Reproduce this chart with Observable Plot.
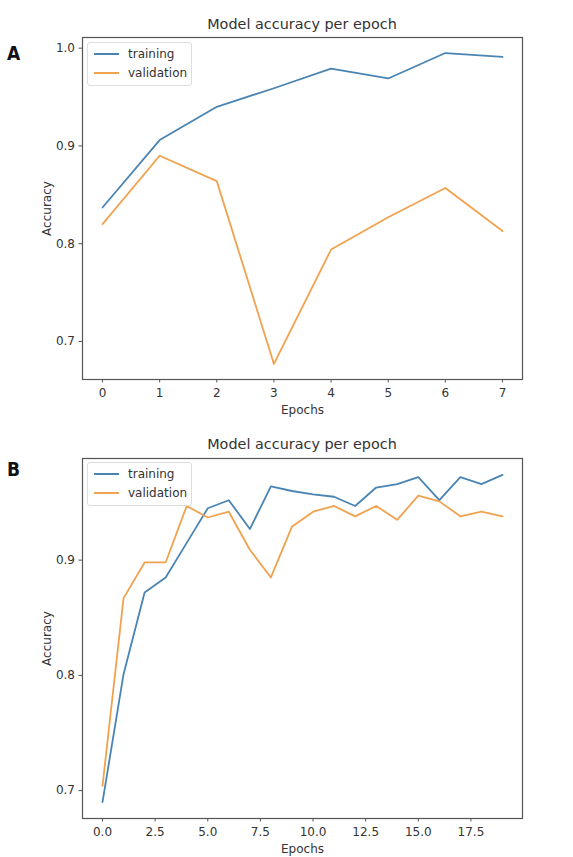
<!DOCTYPE html>
<html>
<head>
<meta charset="utf-8">
<script src="https://cdn.jsdelivr.net/npm/d3@7"></script>
<script src="https://cdn.jsdelivr.net/npm/@observablehq/plot@0.6"></script>
<style>
  html, body { margin: 0; padding: 0; background: #fff; }
  #wrap { position: relative; width: 573px; height: 857px; overflow: hidden; font-family: "DejaVu Sans", sans-serif; color: #333; }
  .panel { position: absolute; left: 0; width: 573px; }
  .title { position: absolute; left: 82px; width: 440px; text-align: center; font-size: 14.4px; color: #333; white-space: nowrap; }
  .letter { position: absolute; left: 7px; font-family: "Liberation Sans Narrow", "DejaVu Sans Condensed", sans-serif; font-weight: bold; font-size: 19px; color: #111; }
  .legend { position: absolute; left: 87px; width: 105px; height: 44px; box-sizing: border-box; border: 1px solid #ddd; border-radius: 3px; background: rgba(255,255,255,0.8); font-size: 12px; color: #333; }
  .legend .row { position: absolute; left: 6px; height: 14px; display: flex; align-items: center; }
  .legend .sw { width: 25px; height: 0; border-top: 2px solid; margin-right: 9px; }
</style>
</head>
<body>
<div id="wrap"></div>
<script>
// Panel A data
const epochsA = [0, 1, 2, 3, 4, 5, 6, 7];
const trainA = [0.837, 0.906, 0.940, 0.959, 0.979, 0.969, 0.995, 0.991];
const valA   = [0.820, 0.890, 0.864, 0.677, 0.794, 0.827, 0.857, 0.813];
const xTicksA = [0, 1, 2, 3, 4, 5, 6, 7];
const yTicksA = [0.7, 0.8, 0.9, 1.0];

// Panel B data
const epochsB = [0,1,2,3,4,5,6,7,8,9,10,11,12,13,14,15,16,17,18,19];
const trainB = [0.690, 0.801, 0.872, 0.885, 0.915, 0.945, 0.952, 0.927, 0.964, 0.960, 0.957, 0.955, 0.947, 0.963, 0.966, 0.972, 0.952, 0.972, 0.966, 0.974];
const valB   = [0.704, 0.867, 0.898, 0.898, 0.947, 0.937, 0.942, 0.909, 0.885, 0.929, 0.942, 0.947, 0.938, 0.947, 0.935, 0.956, 0.951, 0.938, 0.942, 0.938];
const xTicksB = [0, 2.5, 5, 7.5, 10, 12.5, 15, 17.5];
const yTicksB = [0.7, 0.8, 0.9];

const seriesNames = ["training", "validation"];
const colors = ["#4a84b3", "#f0a24e"];

function rows(epochs, tr, va) {
  const out = [];
  epochs.forEach((e, i) => out.push({epoch: e, acc: tr[i], series: seriesNames[0]}));
  epochs.forEach((e, i) => out.push({epoch: e, acc: va[i], series: seriesNames[1]}));
  return out;
}

function pad(vals, f) {
  const lo = d3.min(vals), hi = d3.max(vals), r = hi - lo;
  return [lo - r * f, hi + r * f];
}

function makePlot(cfg) {
  const data = rows(cfg.epochs, cfg.tr, cfg.va);
  return Plot.plot({
    width: 573,
    height: cfg.height,
    marginLeft: 82,
    marginRight: 51,
    marginTop: cfg.marginTop,
    marginBottom: cfg.marginBottom,
    style: { fontFamily: "DejaVu Sans, sans-serif", fontSize: "12px", color: "#333", background: "white" },
    x: { domain: pad(cfg.epochs, 0.05), ticks: cfg.xTicks, tickFormat: cfg.xFmt, tickSize: 3.5, tickPadding: 5, label: null },
    y: { domain: pad(cfg.tr.concat(cfg.va), 0.05), ticks: cfg.yTicks, tickFormat: d3.format(".1f"), tickSize: 3.5, tickPadding: 4, label: null },
    color: { domain: seriesNames, range: colors },
    marks: [
      Plot.frame({ stroke: "#555", strokeWidth: 1.2 }),
      Plot.line(data, { x: "epoch", y: "acc", z: "series", stroke: "series", strokeWidth: 1.8 }),
      Plot.axisX({ ticks: cfg.xTicks, tickFormat: cfg.xFmt, tickSize: 3.5, tickPadding: 5, label: "Epochs", labelAnchor: "center", labelArrow: "none", labelOffset: cfg.xLabelOffset, stroke: "#555", fill: "#333" }),
      Plot.axisY({ ticks: cfg.yTicks, tickFormat: d3.format(".1f"), tickSize: 3.5, tickPadding: 4, label: "Accuracy", labelAnchor: "center", labelArrow: "none", labelOffset: 40, stroke: "#555", fill: "#333" })
    ]
  });
}

const wrap = document.getElementById("wrap");

function addPanel(top, cfg, letter, letterTop, titleTop, legendTop) {
  const div = document.createElement("div");
  div.className = "panel";
  div.style.top = top + "px";
  div.appendChild(makePlot(cfg));
  wrap.appendChild(div);

  const t = document.createElement("div");
  t.className = "title";
  t.style.top = titleTop + "px";
  t.textContent = "Model accuracy per epoch";
  wrap.appendChild(t);

  const l = document.createElement("div");
  l.className = "letter";
  l.style.top = letterTop + "px";
  l.textContent = letter;
  wrap.appendChild(l);

  const lg = document.createElement("div");
  lg.className = "legend";
  lg.style.top = legendTop + "px";
  seriesNames.forEach((name, i) => {
    const r = document.createElement("div");
    r.className = "row";
    r.style.top = (4 + i * 19) + "px";
    const sw = document.createElement("div");
    sw.className = "sw";
    sw.style.borderTopColor = colors[i];
    const tx = document.createElement("span");
    tx.textContent = name;
    r.appendChild(sw);
    r.appendChild(tx);
    lg.appendChild(r);
  });
  wrap.appendChild(lg);
}

addPanel(0, {
  epochs: epochsA, tr: trainA, va: valA, xTicks: xTicksA, yTicks: yTicksA,
  xFmt: d3.format("d"), height: 425, marginTop: 37, marginBottom: 46, xLabelOffset: 34
}, "A", 42, 16, 42);

addPanel(428, {
  epochs: epochsB, tr: trainB, va: valB, xTicks: xTicksB, yTicks: yTicksB,
  xFmt: d3.format(".1f"), height: 429, marginTop: 30, marginBottom: 39, xLabelOffset: 34
}, "B", 458, 436, 462);
</script>
</body>
</html>
